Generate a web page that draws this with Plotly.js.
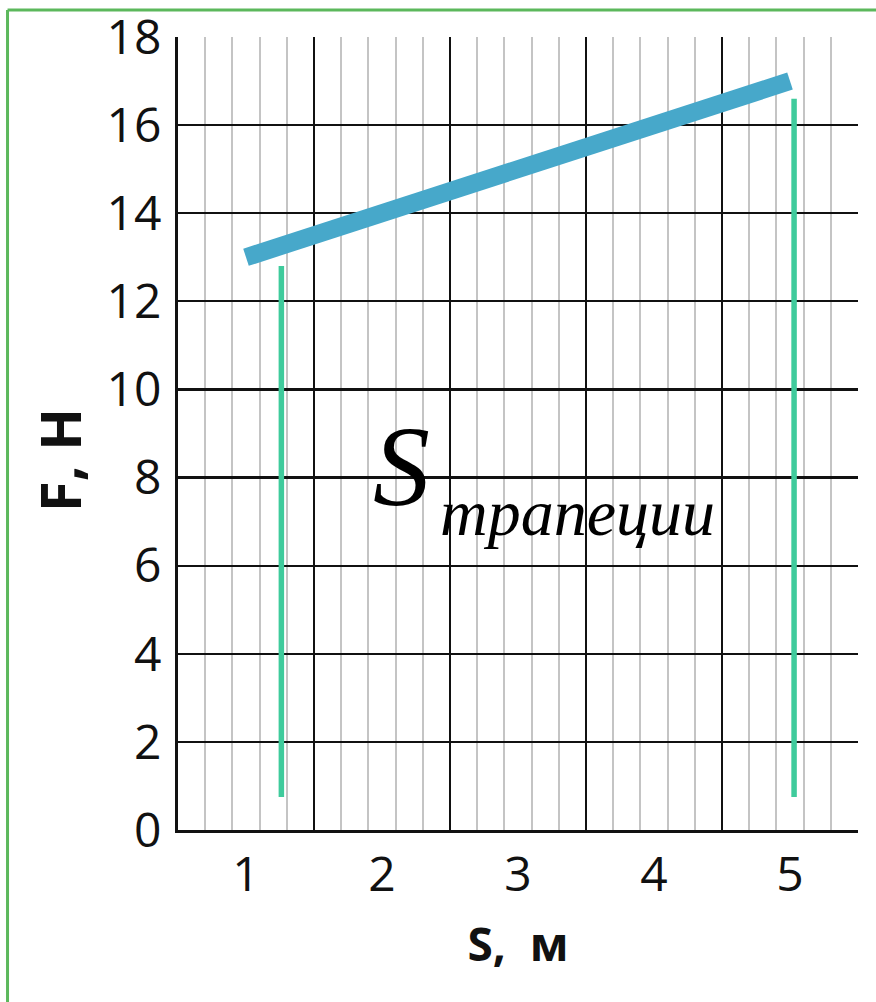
<!DOCTYPE html>
<html>
<head>
<meta charset="utf-8">
<script src="https://cdn.plot.ly/plotly-3.0.1.min.js"></script>
<style>
  html, body { margin: 0; padding: 0; background: #ffffff; }
  #chart { width: 876px; height: 1002px; }
</style>
</head>
<body>
<div id="chart"></div>
<script>
// ---- data ----
const lineS = [1, 5];          // S, м
const lineF = [13, 17];        // F, Н
const leftEdgeS = [1.26, 1.26];
const leftEdgeF = [0.75, 12.8];
const rightEdgeS = [5.03, 5.03];
const rightEdgeF = [0.75, 16.6];
const xTickVals = [1, 2, 3, 4, 5];
const xTickText = ['1', '2', '3', '4', '5'];
const yTickVals = [0, 2, 4, 6, 8, 10, 12, 14, 16, 18];
const xMajorGrid = [1.5, 2.5, 3.5, 4.5];
const areaLabel = 'S';
const areaSub = 'трапеции';
const xTitle = 'S,  м';
const yTitle = 'F, Н';

// minor grid positions every 0.2 between major lines
const xMinorGrid = [];
for (let i = 1; i < 25; i++) {
  const v = Math.round((0.5 + i * 0.2) * 10) / 10;
  if (xMajorGrid.indexOf(v) === -1) xMinorGrid.push(v);
}

const tickFont = { family: 'Open Sans, sans-serif', size: 48, color: '#111111' };

const traces = [
  {
    x: leftEdgeS, y: leftEdgeF, type: 'scatter', mode: 'lines',
    line: { color: '#3fcb9c', width: 5.5 }, hoverinfo: 'skip', showlegend: false
  },
  {
    x: rightEdgeS, y: rightEdgeF, type: 'scatter', mode: 'lines',
    line: { color: '#3fcb9c', width: 5.5 }, hoverinfo: 'skip', showlegend: false
  },
  {
    x: lineS, y: lineF, type: 'scatter', mode: 'lines', xaxis: 'x2', yaxis: 'y',
    line: { color: '#47a8ca', width: 18 }, hoverinfo: 'skip', showlegend: false
  }
];

const layout = {
  width: 876, height: 1002,
  margin: { l: 178, r: 18, t: 37, b: 172 },
  paper_bgcolor: '#ffffff', plot_bgcolor: '#ffffff',
  showlegend: false,
  xaxis: {
    range: [0.5, 5.5], tickmode: 'array', tickvals: xMajorGrid,
    showticklabels: false, ticks: '',
    showgrid: true, gridcolor: '#111111', gridwidth: 2.2,
    minor: { tickmode: 'array', tickvals: xMinorGrid, showgrid: true, gridcolor: '#c4c4c4', gridwidth: 2, ticks: '' },
    showline: true, linecolor: '#111111', linewidth: 3,
    zeroline: false, fixedrange: true
  },
  xaxis2: {
    range: [0.5, 5.5], overlaying: 'x', anchor: 'y', side: 'bottom',
    tickmode: 'array', tickvals: xTickVals, ticktext: xTickText,
    showgrid: false, zeroline: false, showline: false, ticks: '',
    tickfont: tickFont, ticklabelstandoff: 12,
    title: { text: xTitle, font: { family: 'Open Sans, sans-serif', size: 46, color: '#111111', weight: 'bold' }, standoff: 24 },
    fixedrange: true
  },
  yaxis: {
    range: [0, 18], tickmode: 'array', tickvals: yTickVals,
    showgrid: true, gridcolor: '#111111', gridwidth: 2.2,
    showline: true, linecolor: '#111111', linewidth: 3,
    zeroline: false, ticks: '', tickfont: tickFont, ticklabelstandoff: 4,
    fixedrange: true
  },
  annotations: [
    {
      xref: 'paper', yref: 'paper', x: -0.1750, y: 0.4666,
      text: '<b>' + yTitle + '</b>', textangle: -90, showarrow: false,
      font: { family: 'Open Sans, sans-serif', size: 56, color: '#111111' },
      xanchor: 'center', yanchor: 'middle'
    },
    {
      xref: 'x', yref: 'y', x: 2.14, y: 8.25,
      text: '<i>' + areaLabel + '</i>', showarrow: false,
      font: { family: 'Liberation Serif, Times New Roman, serif', size: 114, color: '#000000' },
      xanchor: 'center', yanchor: 'middle'
    },
    {
      xref: 'x', yref: 'y', x: 2.41, y: 7.2,
      text: '<i>' + areaSub + '</i>', showarrow: false,
      font: { family: 'Liberation Serif, Times New Roman, serif', size: 66, color: '#000000' },
      xanchor: 'left', yanchor: 'middle'
    }
  ],
  shapes: [
    { type: 'line', xref: 'paper', yref: 'paper', x0: -0.2507, x1: 1.03, y0: 1.034, y1: 1.034,
      line: { color: '#5cb85c', width: 3 } },
    { type: 'line', xref: 'paper', yref: 'paper', x0: -0.2507, x1: -0.2507, y0: 1.034, y1: -0.22,
      line: { color: '#5cb85c', width: 3 } }
  ]
};

Plotly.newPlot('chart', traces, layout, { staticPlot: true, displayModeBar: false });
</script>
</body>
</html>
